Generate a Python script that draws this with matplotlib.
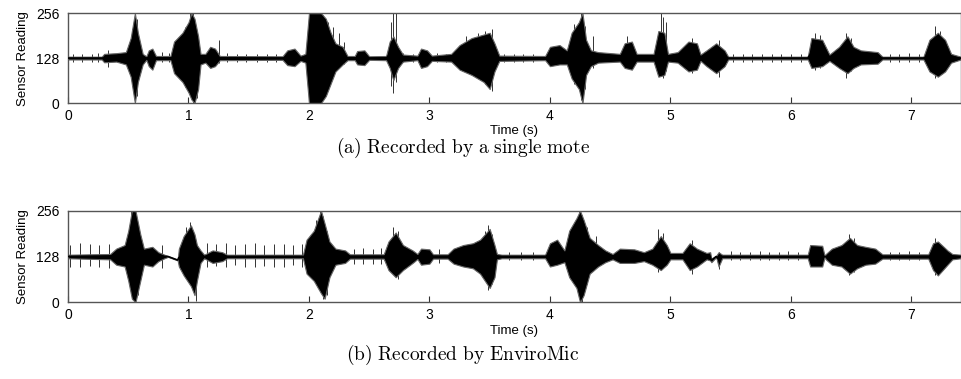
import matplotlib
matplotlib.use("Agg")
import matplotlib.pyplot as plt

plt.rcParams['font.family'] = ['Liberation Sans', 'DejaVu Sans']
plt.rcParams['mathtext.fontset'] = 'cm'

# envelope of each recording: time (s), upper and lower sensor reading
a_t = [0.00, 0.28, 0.30, 0.40, 0.48, 0.52, 0.555, 0.58, 0.62, 0.65, 0.67, 0.70, 0.73,
       0.85, 0.88, 0.95, 1.00, 1.025, 1.05, 1.08, 1.10, 1.14, 1.18, 1.22, 1.26,
       1.78, 1.82, 1.88, 1.93, 1.97, 2.00, 2.10, 2.14, 2.18, 2.22, 2.28, 2.32,
       2.38, 2.40, 2.46, 2.50, 2.64, 2.67, 2.70, 2.74, 2.78, 2.90, 2.93, 2.98, 3.02,
       3.18, 3.25, 3.35, 3.45, 3.50, 3.54, 3.58, 3.96, 4.00, 4.08, 4.14, 4.18, 4.24,
       4.27, 4.30, 4.34, 4.40, 4.58, 4.62, 4.68, 4.72, 4.86, 4.90, 4.95, 4.98,
       5.06, 5.15, 5.22, 5.25, 5.30, 5.38, 5.45, 5.48, 6.14, 6.17, 6.26, 6.32,
       6.40, 6.47, 6.52, 6.58, 6.72, 6.76, 7.10, 7.15, 7.22, 7.28, 7.33, 7.41]
a_hi = [132, 132, 140, 142, 145, 185, 256, 200, 140, 133, 150, 155, 134,
        134, 175, 200, 230, 256, 240, 190, 140, 140, 160, 155, 134,
        133, 150, 155, 135, 140, 256, 256, 240, 200, 170, 160, 134,
        134, 148, 150, 133, 134, 175, 190, 160, 138, 135, 155, 150, 135,
        140, 165, 185, 195, 200, 170, 135, 134, 160, 165, 150, 200, 230,
        256, 180, 150, 145, 140, 170, 175, 140, 140, 205, 200, 140,
        145, 175, 170, 138, 150, 170, 150, 132, 132, 185, 180, 138,
        160, 190, 160, 150, 145, 132, 132, 180, 200, 180, 140, 132]
a_lo = [124, 124, 116, 118, 110, 75, 0, 60, 110, 123, 105, 95, 122,
        122, 85, 60, 30, 10, 0, 40, 110, 115, 100, 105, 122,
        123, 108, 105, 120, 115, 0, 0, 20, 55, 90, 110, 122,
        122, 110, 108, 123, 122, 100, 65, 100, 118, 122, 100, 105, 120,
        118, 95, 80, 60, 40, 90, 120, 122, 105, 110, 110, 70, 40,
        0, 80, 105, 115, 118, 100, 95, 118, 118, 75, 80, 118,
        115, 90, 95, 120, 105, 85, 105, 124, 124, 100, 105, 120,
        100, 85, 100, 110, 112, 124, 124, 90, 75, 90, 115, 124]

b_t = [0.00, 0.35, 0.40, 0.47, 0.50, 0.53, 0.56, 0.60, 0.63, 0.70, 0.75, 0.80,
       0.83, 0.91, 0.92, 0.96, 1.02, 1.05, 1.07, 1.10, 1.13, 1.20, 1.28, 1.32,
       1.95, 1.98, 2.04, 2.10, 2.13, 2.17, 2.22, 2.30, 2.34, 2.62, 2.66, 2.72,
       2.78, 2.86, 2.90, 2.93, 3.00, 3.03, 3.15, 3.20, 3.28, 3.36, 3.42, 3.50,
       3.54, 3.56, 3.60, 3.96, 4.00, 4.06, 4.12, 4.16, 4.22, 4.25, 4.28, 4.33,
       4.40, 4.46, 4.52, 4.58, 4.70, 4.78, 4.85, 4.92, 4.97, 5.00, 5.10, 5.16,
       5.22, 5.30, 5.33, 5.34, 5.38, 5.40, 5.43, 6.14, 6.16, 6.26, 6.28, 6.29,
       6.34, 6.42, 6.49, 6.55, 6.62, 6.70, 6.76, 7.14, 7.18, 7.22, 7.30, 7.34, 7.41]
b_hi = [133, 135, 150, 160, 200, 256, 256, 190, 150, 155, 140, 133,
        129, 119, 150, 185, 215, 190, 160, 145, 133, 145, 140, 133,
        133, 175, 200, 256, 220, 170, 150, 145, 134, 134, 170, 195,
        160, 145, 135, 150, 148, 134, 134, 150, 160, 165, 175, 205,
        160, 135, 133, 133, 165, 175, 145, 200, 235, 256, 230, 180,
        160, 145, 135, 150, 148, 140, 150, 185, 160, 138, 138, 165,
        150, 138, 140, 122, 130, 140, 133, 133, 160, 158, 130, 135,
        150, 160, 180, 160, 155, 150, 134, 134, 165, 170, 145, 135, 133]
b_lo = [123, 120, 105, 100, 60, 10, 0, 60, 105, 100, 115, 123,
        127, 117, 100, 75, 45, 20, 60, 110, 123, 110, 115, 123,
        123, 80, 60, 25, 10, 70, 105, 110, 122, 122, 90, 70,
        90, 110, 121, 105, 108, 122, 122, 108, 100, 95, 80, 40,
        70, 120, 123, 123, 100, 105, 112, 70, 40, 0, 20, 80,
        100, 112, 120, 110, 110, 115, 105, 90, 105, 120, 120, 90,
        100, 120, 117, 112, 126, 100, 123, 123, 100, 100, 126, 120,
        105, 100, 80, 95, 105, 108, 122, 122, 90, 75, 105, 120, 123]

# isolated clicks and peaks inside bursts: time (s), top and bottom of the spike
a_spk_t = [0.04, 0.12, 0.20, 0.25, 0.33, 0.78, 0.84, 1.25, 1.32, 1.40, 1.48, 1.57,
           1.65, 1.73, 2.70, 2.78, 2.86, 3.06, 3.14, 3.62, 3.70, 3.78, 3.86, 4.94,
           5.52, 5.60, 5.68, 5.76, 5.84, 5.92, 6.00, 6.08, 6.82, 6.90, 6.98, 7.06,
           0.53, 0.57, 0.60, 0.97, 1.01, 1.04, 1.07, 2.02, 2.06, 2.12, 2.16, 2.20,
           2.25, 2.29, 2.68, 2.72, 3.30, 3.40, 3.46, 3.52, 4.20, 4.26, 4.29, 4.36,
           4.64, 4.92, 4.96, 5.18, 5.40, 6.20, 6.24, 6.46, 6.50, 7.20, 7.24]
a_spk_hi = [140, 141, 140, 142, 150, 145, 143, 180, 142, 140, 141, 140,
            140, 141, 256, 142, 140, 142, 140, 141, 140, 140, 141, 245,
            141, 140, 141, 140, 141, 140, 141, 140, 141, 140, 142, 140,
            210, 240, 170, 215, 256, 256, 200, 256, 256, 250, 230, 215,
            200, 175, 230, 256, 190, 200, 205, 210, 225, 256, 220, 190,
            190, 256, 230, 185, 180, 200, 195, 200, 185, 220, 205]
a_spk_lo = [118, 117, 118, 116, 103, 116, 117, 115, 118, 118, 117, 118,
            118, 117, 30, 117, 118, 116, 118, 117, 118, 118, 117, 71,
            118, 118, 117, 118, 117, 118, 117, 118, 117, 118, 116, 118,
            50, 20, 95, 45, 20, 0, 15, 0, 0, 10, 45, 80,
            100, 112, 50, 60, 90, 75, 55, 35, 55, 10, 40, 100,
            100, 80, 90, 85, 75, 95, 100, 70, 90, 70, 80]
b_spk_t = [0.02, 0.10, 0.18, 0.26, 0.34, 0.78, 1.15, 1.23, 1.31, 1.39, 1.47, 1.55,
           1.63, 1.71, 1.79, 1.87, 1.94, 2.37, 2.45, 2.53, 2.60, 3.08, 3.66, 3.76,
           3.86, 5.40, 5.50, 5.58, 5.66, 5.74, 5.82, 5.90, 5.98, 6.06, 6.82, 6.90,
           6.98, 7.06,
           0.52, 0.55, 0.58, 0.98, 1.01, 1.04, 1.06, 2.06, 2.09, 2.12, 2.15, 2.70,
           2.74, 3.46, 3.49, 3.52, 4.20, 4.24, 4.27, 4.31, 4.38, 4.90, 4.94, 5.18,
           6.48, 6.52, 7.20]
b_spk_hi = [160, 165, 162, 160, 164, 160, 165, 162, 166, 160, 163, 165,
            160, 162, 164, 160, 162, 150, 152, 150, 152, 148, 140, 140,
            140, 140, 142, 140, 141, 142, 140, 141, 142, 140, 141, 140,
            142, 140,
            256, 256, 220, 210, 225, 200, 150, 230, 256, 240, 200, 210,
            200, 200, 215, 190, 220, 256, 245, 210, 185, 205, 195, 175,
            190, 180, 180]
b_spk_lo = [100, 98, 102, 100, 97, 95, 100, 102, 98, 104, 100, 98,
            102, 100, 98, 104, 100, 108, 106, 108, 106, 110, 118, 118,
            118, 92, 117, 118, 117, 118, 118, 117, 118, 117, 118, 117,
            118, 118,
            20, 0, 20, 80, 60, 40, 5, 55, 40, 10, 20, 80,
            65, 70, 35, 50, 55, 20, 0, 50, 95, 85, 95, 80,
            75, 85, 75]

panels = [
    (a_t, a_hi, a_lo, a_spk_t, a_spk_hi, a_spk_lo, r'$\mathrm{(a)\ Recorded\ by\ a\ single\ mote}$'),
    (b_t, b_hi, b_lo, b_spk_t, b_spk_hi, b_spk_lo, r'$\mathrm{(b)\ Recorded\ by\ EnviroMic}$'),
]

fig = plt.figure(figsize=(9.62, 3.79), dpi=100)
boxes = [[0.0707, 0.728, 0.928, 0.2375], [0.0707, 0.2024, 0.928, 0.2417]]
cap_y = [0.609, 0.063]

for box, (t, hi, lo, st, shi, slo, cap), cy in zip(boxes, panels, cap_y):
    ax = fig.add_axes(box)
    # spikes sit under the envelope so only the parts sticking out show
    ax.vlines(st, slo, shi, color='#333333', lw=0.7, zorder=1)
    ax.fill_between(t, lo, hi, facecolor='black', edgecolor='#666666', linewidth=0.8,
                    zorder=2)
    ax.plot(t, [(h + l) / 2 for h, l in zip(hi, lo)], color='black', lw=1.2, zorder=3)
    ax.set_xlim(0, 7.41)
    ax.set_ylim(0, 256)
    ax.set_xticks(range(8))
    ax.set_yticks([0, 128, 256])
    ax.tick_params(axis='x', direction='in', length=4, width=0.8, color='#333333',
                   labelsize=10, pad=4)
    ax.tick_params(axis='y', length=0, labelsize=10, pad=6)
    for s in ax.spines.values():
        s.set_color('#555555')
        s.set_linewidth(1.0)
    ax.set_xlabel('Time (s)', fontsize=9.5, labelpad=2)
    ax.set_ylabel('Sensor Reading', fontsize=9.5, labelpad=5)
    fig.text(0.481, cy, cap, ha='center', va='center', fontsize=14)

fig.savefig('out.png', dpi=100)
